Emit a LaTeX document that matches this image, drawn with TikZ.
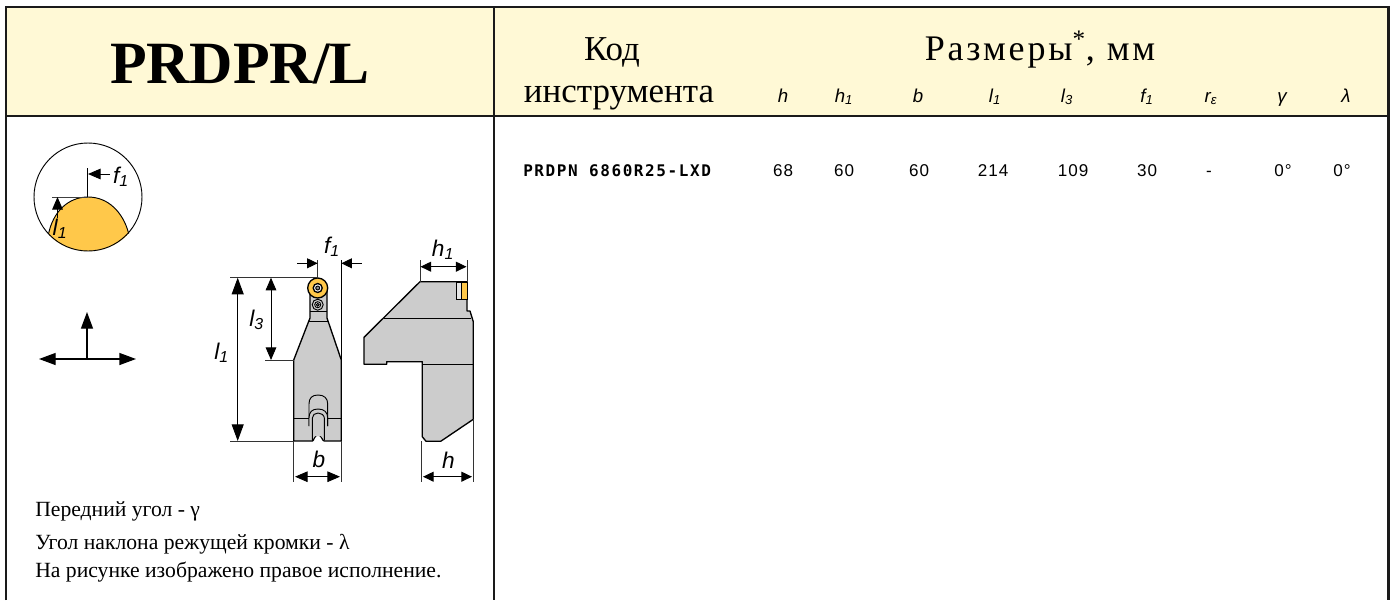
\documentclass[tikz,border=0pt]{standalone}
\usepackage{fontspec}
\usetikzlibrary{arrows.meta}
\setmainfont{Liberation Serif}
\setsansfont{Liberation Sans}
\setmonofont{Liberation Mono}
\newfontfamily\spacedserif[LetterSpace=8]{Liberation Serif}
\newfontfamily\spacedsans[LetterSpace=6]{Liberation Sans}
\newfontfamily\codefont[LetterSpace=10]{DejaVu Sans Mono}
\newcommand{\pxfont}[1]{\fontsize{#1}{#1}\selectfont}
\definecolor{headfill}{HTML}{FFF9D6}
\definecolor{frameline}{HTML}{1A1A1A}
\definecolor{toolgray}{HTML}{CCCCCC}
\definecolor{insert}{HTML}{FFC84A}
\tikzset{
  frame/.style={draw=frameline,line width=1.7pt},
  partline/.style={draw=black,line width=1pt,line join=round},
  thin part/.style={draw=black,line width=0.7pt},
  dimline/.style={draw=black,line width=0.7pt},
  bigtip/.style={-{Triangle[length=12.5pt,width=9pt]}},
  midtip/.style={-{Triangle[length=9.5pt,width=8pt]}},
  smalltip/.style={-{Triangle[length=8pt,width=7.5pt]}},
  dimlabel/.style={font=\sffamily\itshape\pxfont{17},inner sep=0pt,anchor=center},
  headlabel/.style={font=\sffamily\itshape\pxfont{14},inner sep=0pt,anchor=base},
  datum/.style={font=\spacedsans\pxfont{12.8},inner sep=0pt,anchor=base},
  note/.style={font=\rmfamily\pxfont{16.25},inner sep=0pt,anchor=base west},
  headserif/.style={font=\rmfamily\pxfont{26.2},inner sep=0pt,anchor=base}
}
\begin{document}
\begin{tikzpicture}[x=0.75pt,y=-0.75pt]
\useasboundingbox (0,0) rectangle (1391,600);
% header
\fill[headfill] (6,7) rectangle (1388.5,116);
\draw[frame] (6,600) -- (6,7) -- (1388.5,7) -- (1388.5,600);
\draw[frame] (6,116) -- (1388.5,116);
\draw[frame] (494,7) -- (494,600);
\node[inner sep=0pt,anchor=base,font=\rmfamily\bfseries\pxfont{45}] (title) at (240,83) {PRDPR/L};
\node[headserif] (kod) at (612,60) {Код};
\node[headserif] (instr) at (619,102) {инструмента};
\node[inner sep=0pt,anchor=base,font=\spacedserif\pxfont{27}] (razm) at (1040,60) {Размеры\textsuperscript{*}, мм};
% column heads
\node[headlabel] (hh) at (783,102) {h};
\node[headlabel] (hh1) at (844,102) {h\textsubscript{1}};
\node[headlabel] (hb) at (918,102) {b};
\node[headlabel] (hl1) at (995,102) {l\textsubscript{1}};
\node[headlabel] (hl3) at (1067,102) {l\textsubscript{3}};
\node[headlabel] (hf1) at (1147,102) {f\textsubscript{1}};
\node[headlabel] (hr) at (1211,102) {r\textsubscript{ε}};
\node[headlabel] (hg) at (1282,102) {γ};
\node[headlabel] (hla) at (1346,102) {λ};
% row
\node[inner sep=0pt,anchor=base west,font=\codefont\bfseries\pxfont{12}] (code) at (523,176.7) {PRDPN 6860R25-LXD};
\node[datum] (d1) at (783,176.7) {68};
\node[datum] (d2) at (844,176.7) {60};
\node[datum] (d3) at (919,176.7) {60};
\node[datum] (d4) at (993,176.7) {214};
\node[datum] (d5) at (1073,176.7) {109};
\node[datum] (d6) at (1147,176.7) {30};
\node[datum] (d7) at (1209,176.7) {-};
\node[datum] (d8) at (1283,176.7) {0°};
\node[datum] (d9) at (1342,176.7) {0°};
% detail circle
\fill[insert] (48.5,234) .. controls (53,212) and (68,197) .. (88,197) .. controls (108,197) and (123,212) .. (128.7,233.5) .. controls (118,245) and (104,251) .. (88,251) .. controls (72,251) and (58,245) .. (48.5,234) -- cycle;
\draw[thin part] (88,197) circle [radius=54];
\draw[thin part] (48.5,234) .. controls (53,212) and (68,197) .. (88,197) .. controls (108,197) and (123,212) .. (128.7,233.5);
\draw[dimline] (87.5,168) -- (87.5,197);
\draw[dimline,draw=black!75] (52,197) -- (88,197);
\draw[dimline,midtip] (110,174) -- (88,174);
\draw[dimline,midtip] (57.5,218) -- (57.5,197);
\node[dimlabel] (cf) at (121,177) {f\textsubscript{1}};
\node[dimlabel] (cl) at (60,229) {l\textsubscript{1}};
% axes
\coordinate (o) at (87,359);
\draw[line width=1pt,bigtip] (o) -- (87,312);
\draw[line width=1pt,bigtip] (o) -- (39,359);
\draw[line width=1pt,bigtip] (o) -- (136,359);
% top view: body
\fill[toolgray] (310,288) -- (310,318) -- (293.7,360) -- (293.7,441) -- (312.3,441) .. controls (314,441) and (314,435) .. (318,435) .. controls (322,435) and (322,441) .. (324.3,441) -- (341.3,441) -- (341.3,360) -- (327,318) -- (327,288) -- cycle;
\draw[partline] (310,288) -- (310,318) -- (293.7,360) -- (293.7,441) -- (312.3,441) .. controls (314,441) and (314,435) .. (318,435) .. controls (322,435) and (322,441) .. (324.3,441) -- (341.3,441) -- (341.3,360) -- (327,318) -- (327,288);
\draw[thin part] (310,311) -- (327,311);
\draw[thin part] (309,321) -- (328,321);
\draw[thin part] (293.7,418.3) -- (341.3,418.3);
\draw[thin part] (309,426) -- (309,404) .. controls (309,398) and (312,395) .. (318,395) .. controls (324,395) and (327.7,398) .. (327.7,404) -- (327.7,426);
\fill[toolgray] (309,426) -- (309,418) .. controls (309,412) and (312,409) .. (318,409) .. controls (324,409) and (327.7,412) .. (327.7,418) -- (327.7,426) -- cycle;
\draw[thin part] (309,426) -- (309,418) .. controls (309,412) and (312,409) .. (318,409) .. controls (324,409) and (327.7,412) .. (327.7,418) -- (327.7,426);
\fill[toolgray] (312.3,440) -- (312.3,418) .. controls (312.3,415) and (315,413) .. (318,413) .. controls (321,413) and (324.3,415) .. (324.3,418) -- (324.3,440) -- (321,436) -- (315,436) -- cycle;
\draw[thin part] (312.3,440) -- (312.3,418) .. controls (312.3,415) and (315,413) .. (318,413) .. controls (321,413) and (324.3,415) .. (324.3,418) -- (324.3,440);
% insert and screw
\draw[thin part,fill=insert,line width=1pt] (317.7,288) circle [radius=10];
\draw[thin part,fill=white,line width=1pt] (317.7,288) circle [radius=4.5];
\draw[thin part,fill=black!45] (317.7,288) circle [radius=2];
\draw[thin part,fill=toolgray] (317.7,304.7) circle [radius=5.5];
\draw[thin part,fill=white] (317.7,304.7) circle [radius=3];
\draw[thin part,fill=black!45] (317.7,304.7) circle [radius=1.5];
% top view: dims
\draw[dimline,draw=black!80] (230,277.7) -- (317.7,277.7) -- (317.7,260);
\draw[dimline] (341.3,260) -- (341.3,360);
\draw[dimline,draw=black!80] (230,441) -- (293.7,441);
\draw[dimline,draw=black!80] (265,360) -- (293.7,360);
\draw[dimline,draw=black!80] (293.7,441) -- (293.7,482);
\draw[dimline,draw=black!80] (341.3,441) -- (341.3,482);
\draw[dimline,bigtip] (237.7,360) -- (237.7,277.7);
\draw[dimline,bigtip] (237.7,360) -- (237.7,441);
\draw[dimline,midtip] (271,320) -- (271,277.7);
\draw[dimline,midtip] (271,320) -- (271,360);
\draw[dimline,smalltip] (297,263.3) -- (317.7,263.3);
\draw[dimline,smalltip] (361.7,263.3) -- (341.3,263.3);
\draw[dimline,midtip] (318,476.7) -- (295,476.7);
\draw[dimline,midtip] (318,476.7) -- (340,476.7);
\node[dimlabel] (tl1) at (221.7,353) {l\textsubscript{1}};
\node[dimlabel] (tl3) at (256.7,320) {l\textsubscript{3}};
\node[dimlabel] (tf1) at (332,246.7) {f\textsubscript{1}};
\node[dimlabel] (tb) at (319,459) {b};
% side view
\fill[toolgray] (420,281.7) -- (467,281.7) -- (467,311) -- (470,311) -- (473.3,321.7) -- (473.3,419.3) -- (440.7,441.3) -- (426,441.3) -- (422.3,436.7) -- (422.3,361.7) -- (386.7,361.7) -- (386.7,364.3) -- (364,364.3) -- (364,337.3) -- cycle;
\draw[partline] (420,281.7) -- (467,281.7) -- (467,311) -- (470,311) -- (473.3,321.7) -- (473.3,419.3) -- (440.7,441.3) -- (426,441.3) -- (422.3,436.7) -- (422.3,361.7) -- (386.7,361.7) -- (386.7,364.3) -- (364,364.3) -- (364,337.3) -- cycle;
\draw[thin part] (384.3,318.3) -- (470.7,318.3);
\draw[thin part] (422.3,364.3) -- (473.3,364.3);
\draw[thin part,fill=toolgray!50] (456,282) rectangle (461.7,299);
\draw[thin part,fill=insert] (461.7,282) rectangle (467,299);
% side view dims
\draw[dimline,draw=black!80] (420,260) -- (420,281.7);
\draw[dimline,draw=black!80] (467,260) -- (467,281.7);
\draw[dimline,draw=black!80] (421.7,441) -- (421.7,482);
\draw[dimline,draw=black!80] (473,419) -- (473,482);
\draw[dimline,smalltip] (443,266.7) -- (420.5,266.7);
\draw[dimline,smalltip] (443,266.7) -- (466.5,266.7);
\draw[dimline,smalltip] (447,476.7) -- (423,476.7);
\draw[dimline,smalltip] (447,476.7) -- (472,476.7);
\node[dimlabel] (sh1) at (443,250) {h\textsubscript{1}};
\node[dimlabel] (sh) at (448.3,460) {h};
% notes
\node[note] (n1) at (35,516) {Передний угол - γ};
\node[note] (n2) at (35,549) {Угол наклона режущей кромки - λ};
\node[note] (n3) at (35,577) {На рисунке изображено правое исполнение.};
\end{tikzpicture}
\end{document}
